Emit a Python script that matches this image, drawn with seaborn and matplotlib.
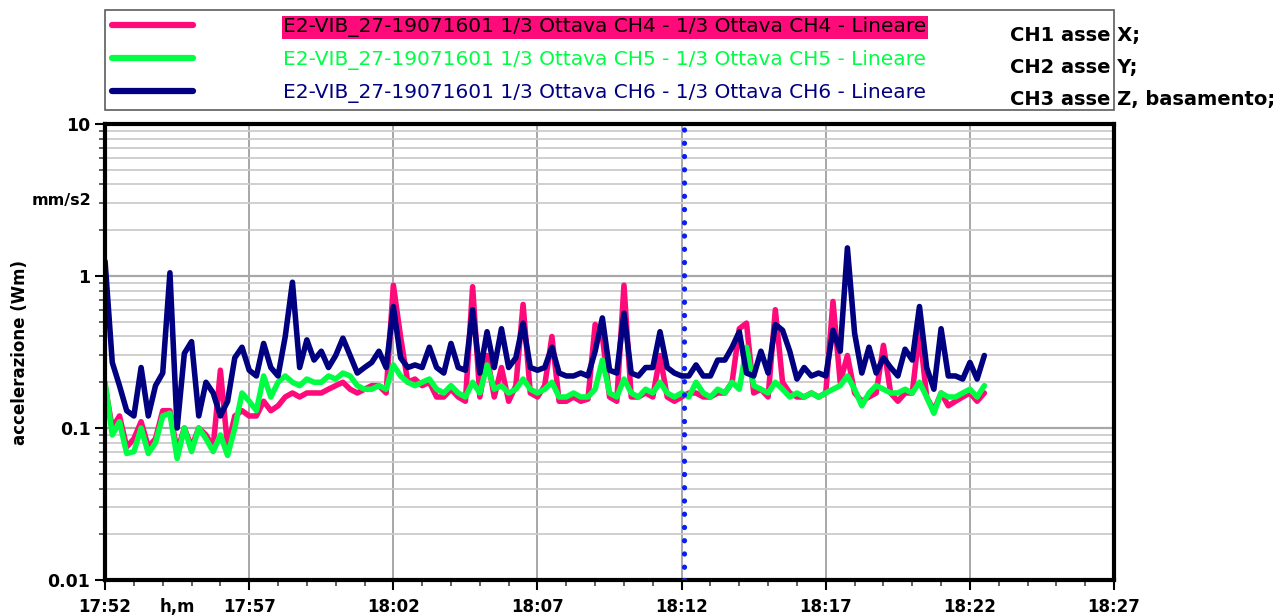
import pandas as pd
import matplotlib.pyplot as plt
import matplotlib.dates as mdates
from matplotlib.lines import Line2D
from matplotlib.ticker import LogLocator, NullFormatter
import seaborn as sns

# dati (un campione ogni 15 s a partire dalle 17:52:00)
ch6 = [1.25, 0.27, 0.19, 0.13, 0.12, 0.25, 0.12, 0.19, 0.23, 1.05,
       0.10, 0.31, 0.37, 0.12, 0.20, 0.17, 0.12, 0.15, 0.29, 0.34,
       0.24, 0.22, 0.36, 0.25, 0.22, 0.40, 0.91, 0.25, 0.38, 0.28,
       0.32, 0.25, 0.30, 0.39, 0.30, 0.23, 0.25, 0.27, 0.32, 0.25,
       0.63, 0.29, 0.25, 0.26, 0.25, 0.34, 0.25, 0.23, 0.36, 0.25,
       0.24, 0.60, 0.23, 0.43, 0.25, 0.45, 0.25, 0.29, 0.49, 0.25,
       0.24, 0.25, 0.34, 0.23, 0.22, 0.22, 0.23, 0.22, 0.32, 0.53,
       0.24, 0.23, 0.57, 0.23, 0.22, 0.25, 0.25, 0.43, 0.25, 0.23,
       0.22, 0.22, 0.26, 0.22, 0.22, 0.28, 0.28, 0.34, 0.43, 0.23,
       0.22, 0.32, 0.23, 0.48, 0.44, 0.32, 0.21, 0.25, 0.22, 0.23,
       0.22, 0.44, 0.32, 1.53, 0.42, 0.23, 0.34, 0.23, 0.29, 0.25,
       0.22, 0.33, 0.28, 0.63, 0.25, 0.18, 0.45, 0.22, 0.22, 0.21,
       0.27, 0.21, 0.30]
ch5 = [0.20, 0.09, 0.11, 0.068, 0.07, 0.10, 0.068, 0.08, 0.12, 0.125,
       0.063, 0.10, 0.07, 0.10, 0.085, 0.07, 0.09, 0.066, 0.10, 0.17,
       0.15, 0.13, 0.22, 0.16, 0.20, 0.22, 0.20, 0.19, 0.21, 0.20,
       0.20, 0.22, 0.21, 0.23, 0.22, 0.19, 0.18, 0.18, 0.19, 0.18,
       0.26, 0.22, 0.20, 0.19, 0.20, 0.21, 0.18, 0.17, 0.19, 0.17,
       0.16, 0.20, 0.17, 0.26, 0.18, 0.19, 0.17, 0.18, 0.21, 0.18,
       0.17, 0.18, 0.20, 0.16, 0.16, 0.17, 0.16, 0.16, 0.18, 0.28,
       0.17, 0.16, 0.21, 0.17, 0.16, 0.18, 0.17, 0.20, 0.17, 0.16,
       0.17, 0.16, 0.20, 0.17, 0.16, 0.18, 0.17, 0.20, 0.18, 0.34,
       0.19, 0.18, 0.17, 0.20, 0.18, 0.16, 0.17, 0.16, 0.17, 0.16,
       0.17, 0.18, 0.19, 0.22, 0.18, 0.14, 0.17, 0.19, 0.18, 0.17,
       0.17, 0.18, 0.17, 0.20, 0.16, 0.125, 0.17, 0.16, 0.16, 0.17,
       0.18, 0.16, 0.19]
ch4 = [0.19, 0.10, 0.12, 0.075, 0.085, 0.11, 0.075, 0.085, 0.13, 0.13,
       0.07, 0.10, 0.075, 0.10, 0.09, 0.075, 0.24, 0.075, 0.12, 0.13,
       0.12, 0.12, 0.15, 0.13, 0.14, 0.16, 0.17, 0.16, 0.17, 0.17,
       0.17, 0.18, 0.19, 0.20, 0.18, 0.17, 0.18, 0.19, 0.19, 0.17,
       0.87, 0.40, 0.20, 0.21, 0.19, 0.20, 0.16, 0.16, 0.18, 0.16,
       0.15, 0.85, 0.16, 0.30, 0.16, 0.25, 0.15, 0.19, 0.65, 0.17,
       0.16, 0.19, 0.40, 0.15, 0.15, 0.16, 0.15, 0.155, 0.48, 0.40,
       0.16, 0.15, 0.87, 0.16, 0.16, 0.17, 0.16, 0.30, 0.16, 0.15,
       0.16, 0.17, 0.17, 0.16, 0.16, 0.17, 0.17, 0.20, 0.45, 0.49,
       0.17, 0.18, 0.16, 0.60, 0.20, 0.17, 0.16, 0.16, 0.17, 0.16,
       0.17, 0.68, 0.20, 0.30, 0.17, 0.15, 0.16, 0.17, 0.35, 0.17,
       0.15, 0.17, 0.17, 0.44, 0.16, 0.13, 0.17, 0.14, 0.15, 0.16,
       0.17, 0.15, 0.17]

channels = ["CH4", "CH5", "CH6"]
labels = ["E2-VIB_27-19071601 1/3 Ottava CH4 - 1/3 Ottava CH4 - Lineare",
          "E2-VIB_27-19071601 1/3 Ottava CH5 - 1/3 Ottava CH5 - Lineare",
          "E2-VIB_27-19071601 1/3 Ottava CH6 - 1/3 Ottava CH6 - Lineare"]
colors = ["#FF0A7A", "#00FF44", "#000080"]
x_ticks = ["17:52", "17:57", "18:02", "18:07", "18:12", "18:17", "18:22", "18:27"]
y_ticks = [0.01, 0.1, 1, 10]
y_tick_labels = ["0.01", "0.1", "1", "10"]
cursor_time = "18:12:05"
note_lines = ["CH1 asse X;", "CH2 asse Y;", "CH3 asse Z, basamento;"]

day = "2019-07-16 "
times = pd.date_range(day + "17:52:00", periods=len(ch6), freq="15s")
df = pd.DataFrame({
    "time": list(times) * 3,
    "valore": ch4 + ch5 + ch6,
    "canale": ["CH4"] * len(ch4) + ["CH5"] * len(ch5) + ["CH6"] * len(ch6),
})

sns.set_style("white")
plt.rcParams["font.family"] = ["DejaVu Sans"]
plt.rcParams["text.color"] = "black"
plt.rcParams["axes.labelcolor"] = "black"
plt.rcParams["xtick.color"] = "black"
plt.rcParams["ytick.color"] = "black"

fig = plt.figure(figsize=(12.86, 6.16), dpi=100)
ax = fig.add_axes([0.0817, 0.0584, 0.7846, 0.7403])

sns.lineplot(data=df, x="time", y="valore", hue="canale", hue_order=channels,
             palette=colors, linewidth=4.0, legend=False, ax=ax,
             solid_joinstyle="round", solid_capstyle="round")

ax.axvline(pd.Timestamp(day + cursor_time), color="#0A1EF5", lw=3.8,
           linestyle=(0, (0.01, 2.5)), dash_capstyle="round", zorder=5)

ax.set_yscale("log")
ax.set_ylim(0.01, 10)
ax.set_xlim(pd.Timestamp(day + x_ticks[0]), pd.Timestamp(day + x_ticks[-1]))

ax.set_yticks(y_ticks)
ax.set_yticklabels(y_tick_labels, fontsize=12.5, fontweight="bold")
ax.yaxis.set_minor_locator(LogLocator(base=10, subs=range(2, 10)))
ax.yaxis.set_minor_formatter(NullFormatter())

ax.set_xticks([pd.Timestamp(day + t) for t in x_ticks])
ax.set_xticklabels(x_ticks, fontsize=12, fontweight="bold")
ax.xaxis.set_minor_locator(mdates.MinuteLocator())

ax.tick_params(axis="both", which="major", direction="out", length=7, width=1.5,
               color="black", bottom=True, left=True)
ax.tick_params(axis="both", which="minor", direction="out", length=4, width=1.2,
               color="#444444", bottom=True, left=True)
ax.tick_params(axis="x", which="major", pad=6)

ax.grid(True, axis="y", which="major", color="#A8A8A8", lw=1.6)
ax.grid(True, axis="y", which="minor", color="#CCCCCC", lw=1.3)
ax.grid(True, axis="x", which="major", color="#A0A0A0", lw=1.3)

for sp in ax.spines.values():
    sp.set_linewidth(3)
    sp.set_color("black")

ax.set_xlabel("")
ax.set_ylabel("accelerazione (Wm)", fontsize=12, fontweight="bold")
ax.yaxis.set_label_coords(-0.084, 0.5)
ax.yaxis.label.set_va("center")
fig.text(32 / 1286, 1 - 200 / 616, "mm/s2", fontsize=11.5, fontweight="bold",
         va="center", ha="left")
fig.text(160 / 1286, 1 - 607 / 616, "h,m", fontsize=12, fontweight="bold",
         va="center", ha="left")

handles = [Line2D([], [], color=c, lw=4.5, solid_capstyle="round") for c in colors]
leg = ax.legend(handles, labels, loc="lower left", bbox_to_anchor=(0, 1.03, 1, 0.2),
                mode="expand", borderaxespad=0, fontsize=14.5, frameon=True,
                fancybox=False, handlelength=4.0, handletextpad=4.5,
                labelspacing=0.65, borderpad=0.35)
leg.get_frame().set_edgecolor("#333333")
leg.get_frame().set_linewidth(1.2)
leg_texts = leg.get_texts()
leg_texts[0].set_color("black")
leg_texts[0].set_bbox(dict(facecolor=colors[0], edgecolor="none", pad=1.0))
leg_texts[1].set_color(colors[1])
leg_texts[2].set_color(colors[2])

for k, line in enumerate(note_lines):
    fig.text(1010 / 1286, 1 - (35 + 32 * k) / 616, line, fontsize=14,
             fontweight="bold", va="center", ha="left")

fig.savefig("out.png", dpi=100)
